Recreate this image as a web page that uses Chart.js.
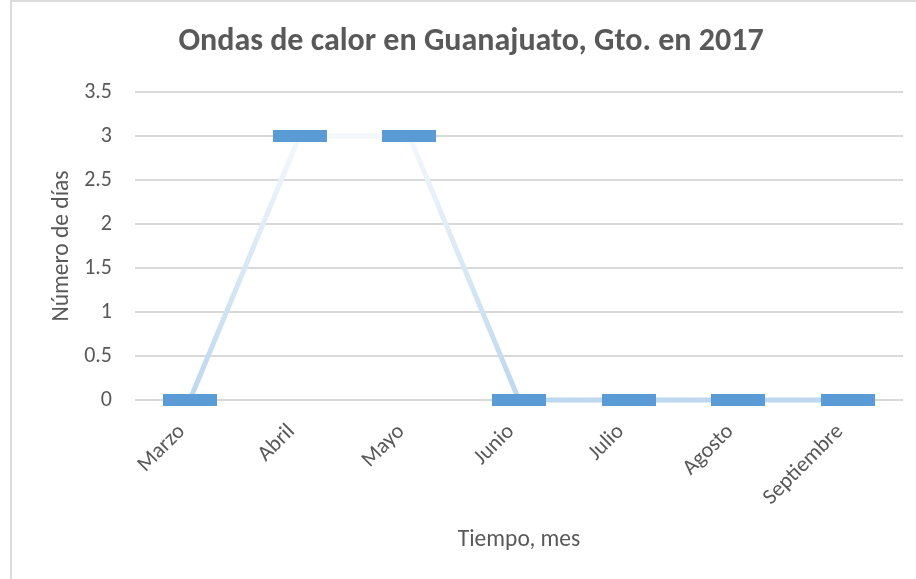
<!DOCTYPE html>
<html>
<head>
<meta charset="utf-8">
<script src="https://cdn.jsdelivr.net/npm/chart.js@4"></script>
<style>
  html, body { margin: 0; padding: 0; background: #ffffff; }
  #wrap { width: 916px; height: 579px; }
</style>
</head>
<body>
<div id="wrap"><canvas id="c" width="916" height="579"></canvas></div>
<script>
// Meses del periodo y días con onda de calor
const meses = ['Marzo', 'Abril', 'Mayo', 'Junio', 'Julio', 'Agosto', 'Septiembre'];
const dias = [0, 3, 3, 0, 0, 0, 0];
const yTicks = [0, 0.5, 1, 1.5, 2, 2.5, 3, 3.5];
const yTickLabels = ['0', '0.5', '1', '1.5', '2', '2.5', '3', '3.5'];
const titulo = 'Ondas de calor en Guanajuato, Gto. en 2017';

const FONT = "Carlito, 'Liberation Sans Narrow', 'DejaVu Sans Condensed', sans-serif";
const TEXT = '#595959';

// Marcador rectangular ancho (barra horizontal)
const marker = document.createElement('canvas');
marker.width = 54; marker.height = 12;
(function () {
  const g = marker.getContext('2d');
  g.fillStyle = '#5b9bd5';
  g.fillRect(0, 0, 54, 12);
})();

// Degradado vertical de la línea: más claro hacia arriba
function lineGradient(ctx) {
  const chart = ctx.chart;
  const area = chart.chartArea;
  if (!area) return '#c9ddf0';
  const y = chart.scales.y;
  const g = chart.ctx.createLinearGradient(0, y.getPixelForValue(0), 0, y.getPixelForValue(3));
  g.addColorStop(0, '#bcd7ee');
  g.addColorStop(1, '#f3f8fc');
  return g;
}

// Marco del gráfico y título centrado sobre el lienzo completo del gráfico
const frame = {
  id: 'frame',
  afterDraw(chart, args, opts) {
    const c = chart.ctx;
    c.save();
    c.strokeStyle = '#dcdcdc';
    c.lineWidth = 2;
    c.beginPath();
    c.moveTo(11, 579);
    c.lineTo(11, 1);
    c.lineTo(916, 1);
    c.stroke();

    c.fillStyle = TEXT;
    c.font = 'bold 32px ' + FONT;
    c.textAlign = 'center';
    c.textBaseline = 'alphabetic';
    c.fillText(opts.text, opts.x, opts.y);
    c.restore();
  }
};

new Chart(document.getElementById('c'), {
  type: 'line',
  data: {
    labels: meses,
    datasets: [{
      data: dias,
      borderColor: lineGradient,
      borderWidth: 5,
      tension: 0,
      clip: false,
      pointStyle: marker,
      pointRadius: 27,
      pointHoverRadius: 27,
      fill: false
    }]
  },
  options: {
    responsive: false,
    animation: false,
    layout: { autoPadding: false, padding: { left: 0, right: 13, top: 92, bottom: 0 } },
    plugins: {
      legend: { display: false },
      tooltip: { enabled: false },
      title: { display: false },
      frame: { text: titulo, x: 471, y: 50 }
    },
    scales: {
      x: {
        offset: true,
        grid: { display: false, drawTicks: false },
        border: { display: false },
        ticks: {
          color: TEXT,
          font: { family: FONT, size: 22 },
          minRotation: 45,
          maxRotation: 45,
          padding: 19,
          labelOffset: -8,
          autoSkip: false
        },
        title: {
          display: true,
          text: 'Tiempo, mes',
          color: TEXT,
          font: { family: FONT, size: 23.5 },
          padding: { top: 0, bottom: 25 }
        },
        afterFit(s) {
          s.height = 179;
          s.paddingLeft = 0;
          s.paddingRight = 0;
        }
      },
      y: {
        min: 0,
        max: 3.5,
        afterBuildTicks(s) { s.ticks = yTicks.map(v => ({ value: v })); },
        grid: { color: '#d9d9d9', lineWidth: 2, drawTicks: false },
        border: { display: false },
        ticks: {
          color: TEXT,
          font: { family: FONT, size: 22 },
          padding: 23,
          callback: (v, i) => yTickLabels[i]
        },
        title: {
          display: true,
          text: 'Número de días',
          color: TEXT,
          font: { family: FONT, size: 23.5 },
          padding: { top: 48, bottom: 0 }
        },
        afterFit(s) {
          s.width = 135;
          s.paddingTop = 0;
          s.paddingBottom = 0;
        }
      }
    }
  },
  plugins: [frame]
});
</script>
</body>
</html>
